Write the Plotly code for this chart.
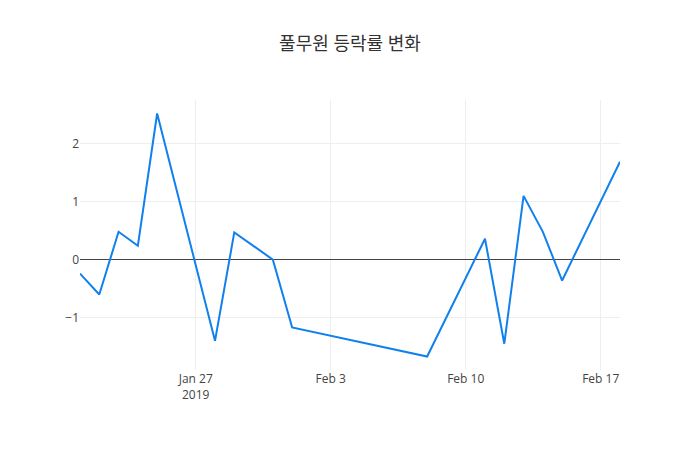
import plotly.graph_objects as go

dates = ["2019-01-21", "2019-01-22", "2019-01-23", "2019-01-24", "2019-01-25",
         "2019-01-28", "2019-01-29", "2019-01-31", "2019-02-01", "2019-02-08",
         "2019-02-11", "2019-02-12", "2019-02-13", "2019-02-14", "2019-02-15",
         "2019-02-18"]
change_pct = [-0.24, -0.60, 0.48, 0.24, 2.52,
              -1.40, 0.47, 0.00, -1.17, -1.67,
              0.36, -1.45, 1.10, 0.48, -0.36,
              1.69]

fig = go.Figure(go.Scatter(x=dates, y=change_pct, mode="lines",
                           line=dict(color="#1080ee", width=2)))
fig.update_layout(
    template="none",
    title=dict(text="풀무원 등락률 변화", x=0.5,
               font=dict(size=18, color="#333")),
    width=700, height=450,
    font=dict(family="Open Sans, Noto Sans CJK KR, sans-serif"),
)
fig.write_html("out.html")
